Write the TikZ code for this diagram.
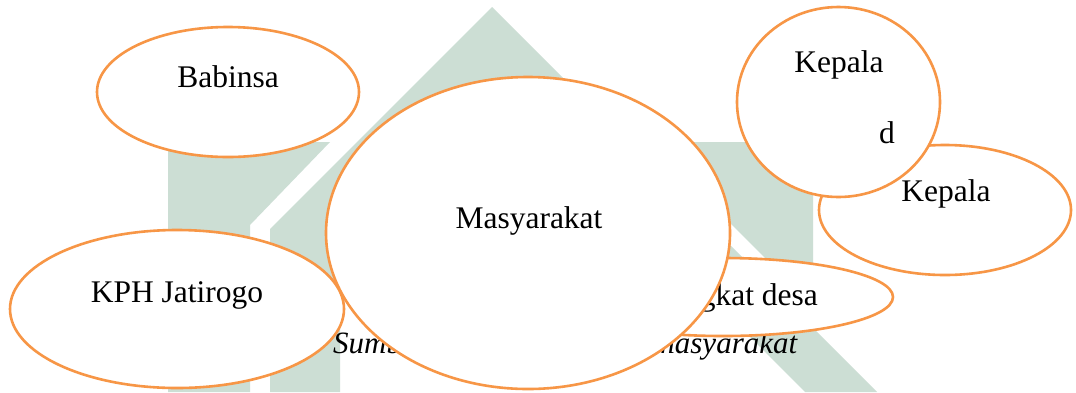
\documentclass[tikz,border=0pt]{standalone}
\usepackage{fontspec}
\setmainfont{Liberation Serif}
\usetikzlibrary{shapes.geometric}
\definecolor{orng}{HTML}{F79646}
\definecolor{wm}{HTML}{CCDED4}
\begin{document}
\begin{tikzpicture}[x=1pt,y=-1pt,
  oval/.style={ellipse, draw=orng, line width=2.6pt, fill=white, inner sep=0pt, outer sep=0pt},
  lbl/.style={anchor=base, inner sep=0pt, font=\fontsize{31.5}{37}\selectfont},
  captxt/.style={anchor=base west, inner sep=0pt, font=\fontsize{31}{37}\selectfont\itshape}]
\useasboundingbox (0,0) rectangle (1076,392);
\fill[white] (0,0) rectangle (1076,392);
% watermark
\fill[wm] (168,142) -- (330,142) -- (250,225) -- (250,392) -- (168,392) -- cycle;
\fill[wm] (270,392) -- (270,229) -- (492,7) -- (877,392) -- (805,392) -- (492,79) -- (340,231) -- (340,392) -- cycle;
\fill[wm] (649,142) -- (813,142) -- (813,306) -- cycle;
% shapes
\node[oval, minimum width=262pt, minimum height=130pt] (bab) at (228,92) {};
\node[lbl] (babT) at (228,87) {Babinsa};
\node[oval, minimum width=334pt, minimum height=158pt] (kph) at (177,309) {};
\node[lbl] (kphT) at (177,302) {KPH Jatirogo};
\node[captxt] (capT) at (333,353) {\makebox[464pt][l]{Sumber:\hfill masyarakat}};
\node[oval, minimum width=340pt, minimum height=78pt] (desa) at (723,297) {};
\node[lbl] (desaT) at (723,305) {Perangkat desa};
\node[oval, minimum width=404pt, minimum height=312pt] (mas) at (528,233) {};
\node[lbl] (masT) at (529,228) {Masyarakat};
\node[oval, minimum width=252pt, minimum height=130pt] (kep2) at (945,210) {};
\node[lbl] (kep2T) at (946,201) {Kepala};
\node[oval, minimum width=203pt, minimum height=190pt] (kep1) at (838.5,102) {};
\node[lbl] (kep1T) at (839,72) {Kepala};
\node[lbl] (kep1d) at (887,143) {d};
\end{tikzpicture}
\end{document}
